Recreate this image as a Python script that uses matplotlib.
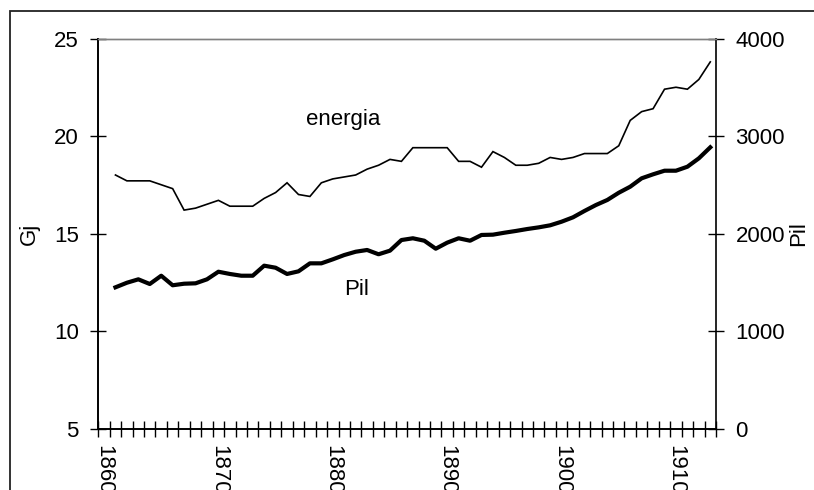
import matplotlib
matplotlib.use("Agg")
import matplotlib.pyplot as plt
from matplotlib.patches import Rectangle
import numpy as np

plt.rcParams['font.family'] = ['Liberation Sans', 'DejaVu Sans']

# ---- data ----
categories = list(range(1860, 1914))          # 54 categories on the axis
years = list(range(1861, 1914))               # data years (1861-1913)
energia = [18.0, 17.7, 17.7, 17.7, 17.5, 17.3, 16.2, 16.3, 16.5, 16.7,
           16.4, 16.4, 16.4, 16.8, 17.1, 17.6, 17.0, 16.9, 17.6, 17.8,
           17.9, 18.0, 18.3, 18.5, 18.8, 18.7, 19.4, 19.4, 19.4, 19.4,
           18.7, 18.7, 18.4, 19.2, 18.9, 18.5, 18.5, 18.6, 18.9, 18.8,
           18.9, 19.1, 19.1, 19.1, 19.5, 20.8, 21.25, 21.4, 22.4, 22.5,
           22.4, 22.9, 23.8]
pil = [1448, 1495, 1530, 1482, 1567, 1469, 1485, 1489, 1530, 1608,
       1585, 1567, 1567, 1670, 1649, 1585, 1612, 1694, 1694, 1735,
       1779, 1813, 1831, 1787, 1824, 1933, 1951, 1926, 1844, 1906,
       1951, 1926, 1985, 1988, 2008, 2026, 2046, 2063, 2084, 2121,
       2166, 2231, 2292, 2344, 2418, 2480, 2566, 2607, 2644, 2644,
       2685, 2771, 2884]
label_years = [1860, 1870, 1880, 1890, 1900, 1910]
left_ticks = [5, 10, 15, 20, 25]
right_ticks = [0, 1000, 2000, 3000, 4000]

W, H = 814, 490
fig = plt.figure(figsize=(W / 100, H / 100), dpi=100)

# outer chart border (only left and top edges visible)
fig.patches.append(Rectangle((9.5 / W, -0.1), 1.2, 1 - 11.5 / H + 0.1,
                             transform=fig.transFigure, fill=False,
                             edgecolor='#222222', linewidth=1.3))

L, R, T, B = 98.3, 716, 38.5, 428.5
ax = fig.add_axes([L / W, 1 - B / H, (R - L) / W, (B - T) / H])
ax2 = ax.twinx()

ax.plot(years, energia, color='black', linewidth=1.2, solid_joinstyle='miter')
ax2.plot(years, pil, color='black', linewidth=3.0, solid_joinstyle='round')

ax.set_xlim(categories[0] - 0.5, categories[-1] + 0.5)
ax.set_ylim(5, 25)
ax2.set_ylim(0, 4000)
ax.set_yticks(left_ticks)
ax2.set_yticks(right_ticks)

# x axis: cross ticks at category boundaries, labels every decade
ax.set_xticks(label_years)
ax.set_xticklabels([str(y) for y in label_years], rotation=-90, va='top',
                   ha='center', fontsize=16)
ax.tick_params(axis='x', which='major', length=0, pad=12)
ax.set_xticks([c - 0.5 for c in categories] + [categories[-1] + 0.5], minor=True)
ax.tick_params(axis='x', which='minor', direction='inout', length=11, width=1)

ax.tick_params(axis='y', direction='inout', length=12, width=1, labelsize=16, pad=8)
ax2.tick_params(axis='y', direction='inout', length=12, width=1, labelsize=16, pad=8)

for a in (ax, ax2):
    a.spines['top'].set_color('#808080')
    a.spines['top'].set_linewidth(1.0)
    for s in ('left', 'right', 'bottom'):
        a.spines[s].set_linewidth(1.2)
        a.spines[s].set_color('black')
ax.spines['right'].set_visible(False)

ax.set_ylabel('Gj', fontsize=16, labelpad=10)
ax2.set_ylabel('Pil', fontsize=16, labelpad=2)

ax.text(1880.9, 20.87, 'energia', fontsize=16, ha='center', va='center')
ax.text(1882.05, 12.15, 'Pil', fontsize=16, ha='center', va='center')

fig.savefig('out.png', dpi=100)
